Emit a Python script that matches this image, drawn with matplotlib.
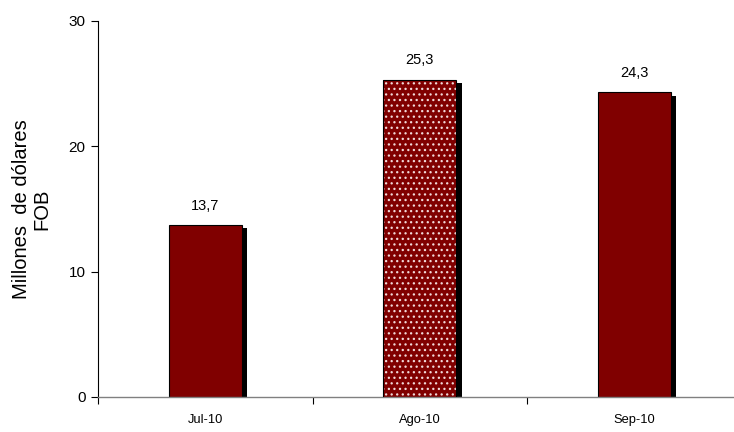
import matplotlib.pyplot as plt
import numpy as np

plt.rcParams['font.family'] = ['Liberation Sans', 'DejaVu Sans']
plt.rcParams['hatch.linewidth'] = 0.9

months = ['Jul-10', 'Ago-10', 'Sep-10']
values = [13.7, 25.3, 24.3]
labels = ['13,7', '25,3', '24,3']
dotted = [False, True, False]

fig = plt.figure(figsize=(7.34, 4.32), dpi=100)
ax = fig.add_axes([98 / 734, 35 / 432, 636 / 734, 376 / 432])

x = np.arange(len(months))
width = 0.34
red = '#800000'

# shadow
ax.bar(x + 0.025, np.array(values) - 0.25, width, color='black', zorder=1)

for xi, v, d in zip(x, values, dotted):
    if d:
        ax.bar(xi, v, width, color=red, edgecolor='#f0d8d8', linewidth=0, hatch='...', zorder=2)
        ax.bar(xi, v, width, fill=False, edgecolor='black', linewidth=0.8, zorder=3)
    else:
        ax.bar(xi, v, width, color=red, edgecolor='black', linewidth=0.8, zorder=2)

for xi, v, lab in zip(x, values, labels):
    ax.text(xi, v + 1.0, lab, ha='center', va='bottom', fontsize=10.5)

ax.set_ylim(0, 30)
ax.set_xlim(-0.5, 2.465)
ax.set_yticks([0, 10, 20, 30])
ax.tick_params(axis='y', labelsize=11, length=5, width=0.8, direction='out', pad=4)
ax.set_xticks(x)
ax.set_xticklabels(months)
ax.set_xticks([-0.5, 0.5, 1.5], minor=True)
ax.tick_params(axis='x', which='major', length=0, pad=12, labelsize=9.3)
ax.tick_params(axis='x', which='minor', length=5, width=0.8)

ax.spines['top'].set_visible(False)
ax.spines['right'].set_visible(False)
ax.spines['left'].set_linewidth(0.8)
ax.spines['bottom'].set_color('#808080')
ax.spines['bottom'].set_linewidth(1.0)

ax.set_ylabel('Millones  de dólares\nFOB', fontsize=14.5, labelpad=12,
              linespacing=1.15, multialignment='center')

fig.savefig('out.png', dpi=100)
